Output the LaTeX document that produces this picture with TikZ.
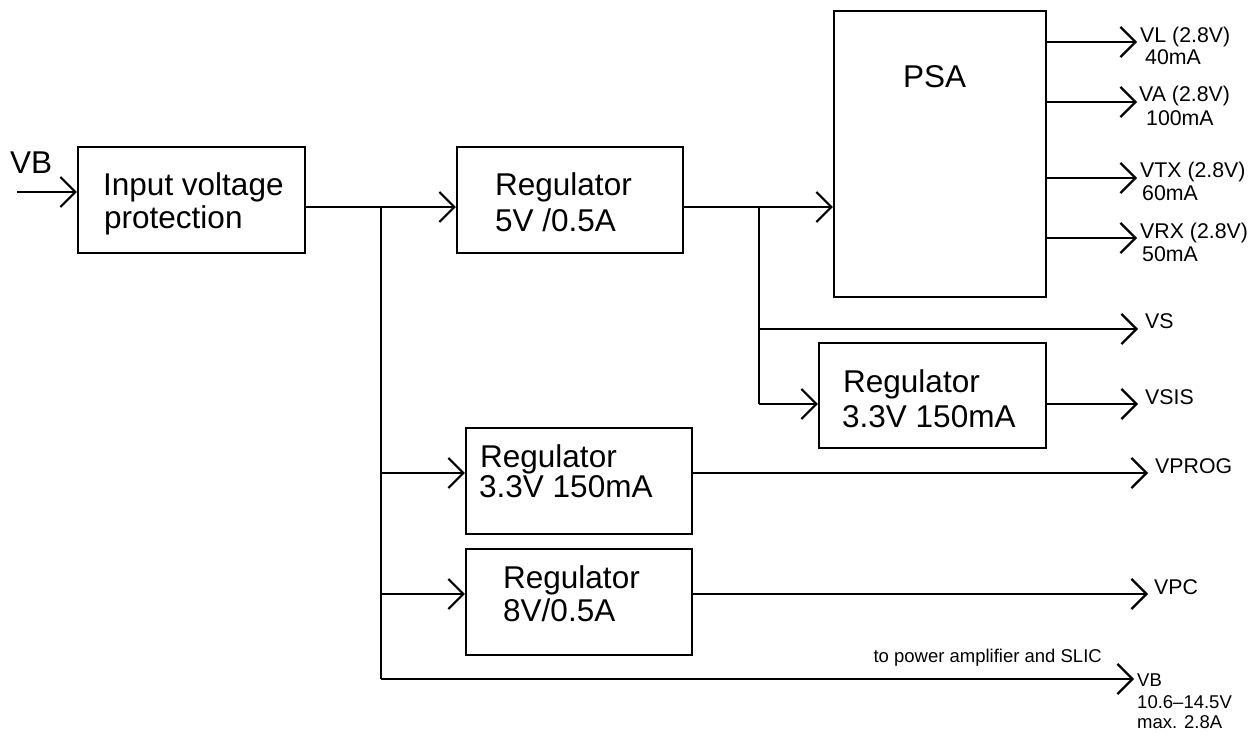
\documentclass[tikz,border=0pt]{standalone}
\usepackage{fontspec}
\setmainfont{Liberation Sans}
\usetikzlibrary{arrows.meta}
\begin{document}
\begin{tikzpicture}[x=1pt,y=-1pt,
  box/.style={draw,line width=2.2pt,rectangle,inner sep=0pt},
  wire/.style={line width=2.2pt},
  arr/.style={line width=2.2pt,-{Straight Barb[length=15pt,width=30pt]}},
  big/.style={anchor=base west,inner sep=0pt,font=\fontsize{31.5}{33}\selectfont},
  lab/.style={anchor=base west,inner sep=0pt,font=\fontsize{21.3}{23}\selectfont},
  sml/.style={anchor=base west,inner sep=0pt,font=\fontsize{18.5}{20}\selectfont}]
\useasboundingbox (0,0) rectangle (1258,734);
% boxes
\node[box,minimum width=227pt,minimum height=106pt] (inp) at (191.5,200) {};
\node[box,minimum width=226pt,minimum height=106pt] (r5) at (570,200) {};
\node[box,minimum width=212pt,minimum height=286pt] (psa) at (940,154) {};
\node[box,minimum width=227pt,minimum height=105pt] (r33a) at (932.5,395.5) {};
\node[box,minimum width=226pt,minimum height=106pt] (r33b) at (579,481) {};
\node[box,minimum width=226pt,minimum height=106pt] (r8) at (579,602) {};
% box texts
\node[big] (tvb) at (10,173) {VB};
\node[big] (ti1) at (103,195) {Input voltage};
\node[big] (ti2) at (104,228) {protection};
\node[big] (t51) at (495,195) {Regulator};
\node[big] (t52) at (495,231) {5V /0.5A};
\node[big] (tpsa) at (903,87) {PSA};
\node[big] (ta1) at (843,392) {Regulator};
\node[big] (ta2) at (842,427) {3.3V 150mA};
\node[big] (tb1) at (480,467) {Regulator};
\node[big] (tb2) at (479,497) {3.3V 150mA};
\node[big] (tc1) at (503,588) {Regulator};
\node[big] (tc2) at (503,621) {8V/0.5A};
% junctions and free ends
\coordinate (vin) at (17,192);
\coordinate (j1) at (381,207);
\coordinate (j1b) at (381,473);
\coordinate (j1c) at (381,594);
\coordinate (j1d) at (381,679);
\coordinate (j2) at (759,207);
\coordinate (j2b) at (759,329);
\coordinate (j2c) at (759,404);
\coordinate (oVL) at (1137,42);
\coordinate (oVA) at (1137,102);
\coordinate (oVTX) at (1137,178);
\coordinate (oVRX) at (1137,238);
\coordinate (oVS) at (1138,329);
\coordinate (oVSIS) at (1138,404);
\coordinate (oVPROG) at (1148,473);
\coordinate (oVPC) at (1148,594);
\coordinate (oVB) at (1134,679);
% connectors
\draw[arr] (vin) -- (inp.west |- vin);
\draw[arr] (inp.east |- j1) -- (r5.west |- j1);
\draw[wire] (j1) -- (j1d);
\draw[arr] (j1b) -- (r33b.west |- j1b);
\draw[arr] (j1c) -- (r8.west |- j1c);
\draw[arr] (j1d) -- (oVB);
\draw[arr] (r5.east |- j2) -- (psa.west |- j2);
\draw[wire] (j2) -- (j2c);
\draw[arr] (j2b) -- (oVS);
\draw[arr] (j2c) -- (r33a.west |- j2c);
\draw[arr] (psa.east |- oVL) -- (oVL);
\draw[arr] (psa.east |- oVA) -- (oVA);
\draw[arr] (psa.east |- oVTX) -- (oVTX);
\draw[arr] (psa.east |- oVRX) -- (oVRX);
\draw[arr] (r33a.east |- oVSIS) -- (oVSIS);
\draw[arr] (r33b.east |- oVPROG) -- (oVPROG);
\draw[arr] (r8.east |- oVPC) -- (oVPC);
% output labels
\node[lab] (lvl) at (1140,42) {VL (2.8V)};
\node[lab] (lvl2) at (1145,64) {40mA};
\node[lab] (lva) at (1139,101) {VA (2.8V)};
\node[lab] (lva2) at (1146,125) {100mA};
\node[lab] (lvtx) at (1140,177) {VTX (2.8V)};
\node[lab] (lvtx2) at (1142,200) {60mA};
\node[lab] (lvrx) at (1140,238) {VRX (2.8V)};
\node[lab] (lvrx2) at (1142,261) {50mA};
\node[lab] (lvs) at (1145,328) {VS};
\node[lab] (lvsis) at (1145,404) {VSIS};
\node[lab] (lvprog) at (1155,473) {VPROG};
\node[lab] (lvpc) at (1154,594) {VPC};
\node[sml,anchor=base east] (lslic) at (1102,662) {to power amplifier and SLIC};
\node[sml] (lvb) at (1137,686) {VB};
\node[sml] (lvb2) at (1137,708) {10.6–14.5V};
\node[sml] (lvb3) at (1137,728) {max. 2.8A};
\end{tikzpicture}
\end{document}
